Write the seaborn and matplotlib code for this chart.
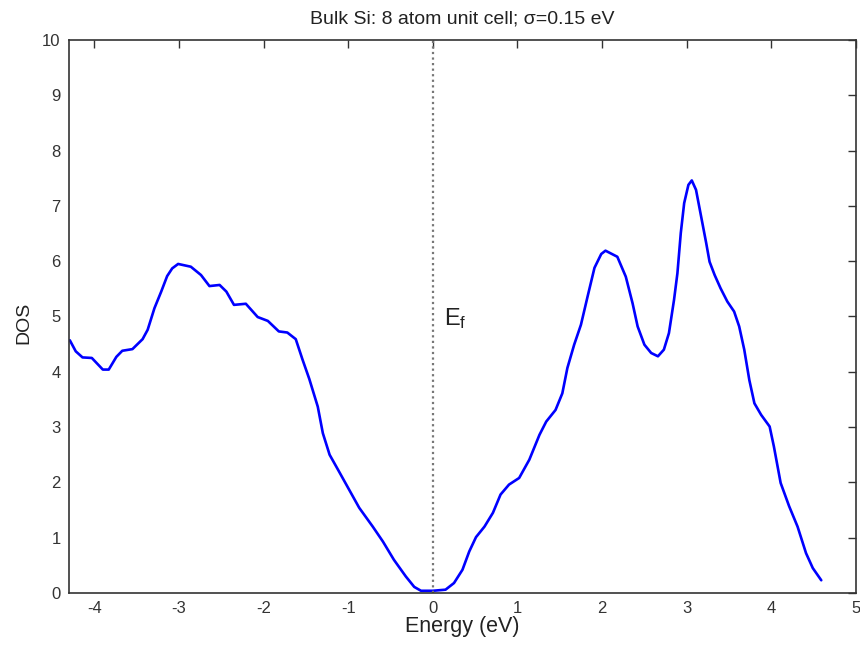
import matplotlib
matplotlib.use("Agg")
import matplotlib.pyplot as plt
import seaborn as sns
import pandas as pd

energy = [-4.29, -4.22, -4.14, -4.03, -3.90, -3.83, -3.74, -3.67, -3.55, -3.43,
          -3.37, -3.29, -3.21, -3.14, -3.08, -3.01, -2.86, -2.74, -2.64, -2.52,
          -2.44, -2.35, -2.21, -2.07, -1.95, -1.82, -1.72, -1.62, -1.54, -1.46,
          -1.36, -1.30, -1.22, -1.11, -0.99, -0.87, -0.71, -0.59, -0.46, -0.32,
          -0.22, -0.14, 0.00, 0.15, 0.25, 0.35, 0.43, 0.51, 0.61, 0.71,
          0.80, 0.90, 1.02, 1.14, 1.26, 1.34, 1.45, 1.53, 1.59, 1.67,
          1.75, 1.83, 1.91, 1.99, 2.04, 2.18, 2.28, 2.36, 2.42, 2.50,
          2.58, 2.66, 2.73, 2.79, 2.85, 2.89, 2.93, 2.97, 3.02, 3.06,
          3.11, 3.17, 3.23, 3.27, 3.33, 3.40, 3.48, 3.56, 3.62, 3.68,
          3.74, 3.80, 3.88, 3.98, 4.03, 4.11, 4.21, 4.31, 4.41, 4.49, 4.59]
dos = [4.57, 4.37, 4.26, 4.25, 4.04, 4.04, 4.27, 4.38, 4.41, 4.59,
       4.76, 5.15, 5.45, 5.73, 5.87, 5.95, 5.90, 5.75, 5.55, 5.57,
       5.45, 5.21, 5.23, 4.99, 4.92, 4.73, 4.71, 4.59, 4.22, 3.87,
       3.37, 2.89, 2.50, 2.20, 1.87, 1.54, 1.20, 0.93, 0.60, 0.30,
       0.11, 0.04, 0.04, 0.06, 0.18, 0.42, 0.75, 1.01, 1.20, 1.45,
       1.78, 1.96, 2.08, 2.41, 2.86, 3.10, 3.31, 3.61, 4.07, 4.49,
       4.85, 5.37, 5.88, 6.13, 6.19, 6.08, 5.72, 5.24, 4.82, 4.49,
       4.34, 4.28, 4.40, 4.70, 5.30, 5.78, 6.51, 7.05, 7.38, 7.46,
       7.29, 6.81, 6.33, 5.99, 5.75, 5.51, 5.27, 5.09, 4.82, 4.40,
       3.85, 3.43, 3.22, 3.01, 2.65, 1.99, 1.57, 1.20, 0.72, 0.45, 0.23]

x_ticks = [-4, -3, -2, -1, 0, 1, 2, 3, 4, 5]
y_ticks = [0, 1, 2, 3, 4, 5, 6, 7, 8, 9, 10]
title = "Bulk Si: 8 atom unit cell; \u03c3=0.15 eV"

sns.set_style("white")
plt.rcParams['font.family'] = ['Liberation Sans', 'DejaVu Sans']
plt.rcParams['axes.unicode_minus'] = False

df = pd.DataFrame({"Energy": energy, "DOS": dos})

fig = plt.figure(figsize=(8.6, 6.49), dpi=100)
ax = fig.add_axes([0.0802, 0.0863, 0.9151, 0.8521])

sns.lineplot(data=df, x="Energy", y="DOS", color="#0000ff", linewidth=1.9, ax=ax)
ax.axvline(0, color="#777777", linestyle=(0, (1, 1.5)), linewidth=1.6)
ax.text(0.13, 4.97, r"$\mathregular{E_f}$", fontsize=17, va="center", ha="left",
        color="#222222")

ax.set_xlim(-4.3, 5)
ax.set_ylim(0, 10)
ax.set_xticks(x_ticks)
ax.set_yticks(y_ticks)
ax.tick_params(direction="in", length=6, width=1, top=True, right=True,
               labelsize=12, colors="#333333", pad=6)
for s in ax.spines.values():
    s.set_color("#333333")
    s.set_linewidth(1.2)
ax.set_xlabel("Energy (eV)", fontsize=15.5, color="#222222", labelpad=0)
ax.set_ylabel("DOS", fontsize=14, color="#222222")
ax.yaxis.set_label_coords(-0.046, 0.488)
ax.set_title(title, fontsize=14, color="#222222", pad=12)

fig.savefig("out.png", dpi=100)
